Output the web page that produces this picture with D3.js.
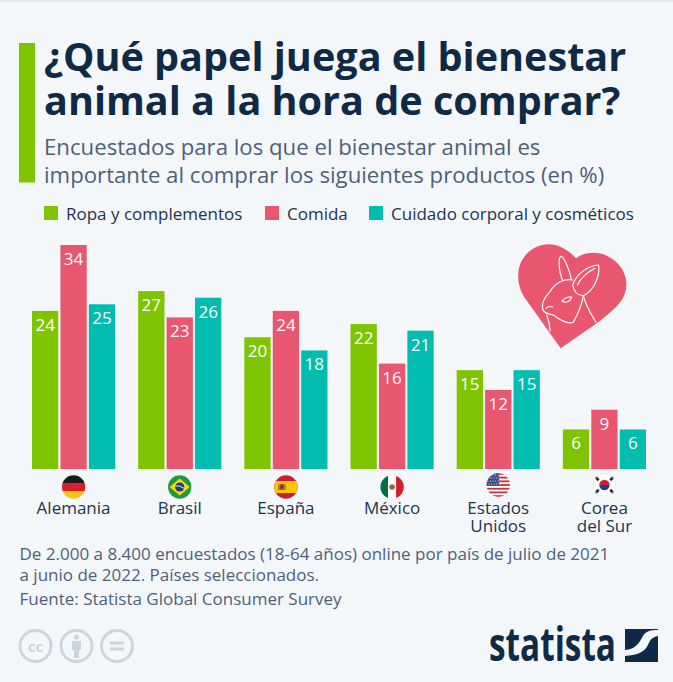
<!DOCTYPE html>
<html>
<head>
<meta charset="utf-8">
<script src="https://cdn.jsdelivr.net/npm/d3@7"></script>
<style>
  html, body { margin: 0; padding: 0; background: #f4f7fa; }
  svg { display: block; }
  text { font-family: "Open Sans", sans-serif; }
</style>
</head>
<body>
<div id="chart"></div>
<script>
const countries = ["Alemania", "Brasil", "España", "México", "Estados Unidos", "Corea del Sur"];
const countryLines = [["Alemania"], ["Brasil"], ["España"], ["México"], ["Estados", "Unidos"], ["Corea", "del Sur"]];
const flagCodes = ["de", "br", "es", "mx", "us", "kr"];
const seriesNames = ["Ropa y complementos", "Comida", "Cuidado corporal y cosméticos"];
const ropa = [24, 27, 20, 22, 15, 6];
const comida = [34, 23, 24, 16, 12, 9];
const cuidado = [25, 26, 18, 21, 15, 6];
const seriesValues = [ropa, comida, cuidado];
const colors = ["#7fc400", "#e8566f", "#00bdb0"];
const titleLines = ["¿Qué papel juega el bienestar", "animal a la hora de comprar?"];
const subtitleLines = ["Encuestados para los que el bienestar animal es", "importante al comprar los siguientes productos (en %)"];
const noteLines = ["De 2.000 a 8.400 encuestados (18-64 años) online por país de julio de 2021", "a junio de 2022. Países seleccionados.", "Fuente: Statista Global Consumer Survey"];

const width = 673, height = 682;
const dark = "#0f2a47";

const svg = d3.select("#chart").append("svg")
  .attr("width", width)
  .attr("height", height)
  .attr("viewBox", `0 0 ${width} ${height}`);

svg.append("rect").attr("width", width).attr("height", height).attr("fill", "#f4f7fa");
svg.append("rect").attr("width", width).attr("height", 1.5).attr("fill", "#e4e8ec");

// header
svg.append("rect").attr("x", 19).attr("y", 43).attr("width", 16).attr("height", 139.5).attr("fill", colors[0]);

svg.selectAll(".title").data(titleLines).join("text")
  .attr("class", "title")
  .attr("x", 44)
  .attr("y", (d, i) => 71 + i * 44)
  .attr("font-size", 39.6)
  .attr("font-weight", 700)
  .attr("fill", dark)
  .text(d => d);

svg.selectAll(".subtitle").data(subtitleLines).join("text")
  .attr("class", "subtitle")
  .attr("x", 44)
  .attr("y", (d, i) => 155 + i * 27.5)
  .attr("font-size", 22.2)
  .attr("fill", "#4e6178")
  .text(d => d);

// legend
const legendX = [44, 265, 369];
const legend = svg.selectAll(".legend").data(seriesNames).join("g")
  .attr("class", "legend")
  .attr("transform", (d, i) => `translate(${legendX[i]},206)`);
legend.append("rect").attr("width", 14).attr("height", 14).attr("fill", (d, i) => colors[i]);
legend.append("text")
  .attr("x", 22)
  .attr("y", 13.5)
  .attr("font-size", 17)
  .attr("fill", "#22344c")
  .text(d => d);

// bars
const x = d3.scaleBand().domain(countries).range([32, 646]).paddingInner(0.217);
const xInner = d3.scaleBand().domain(seriesNames).range([0, x.bandwidth()]).paddingInner(0.075);
const y = d3.scaleLinear().domain([0, 34]).range([469, 245]);

const groups = svg.selectAll(".country").data(countries).join("g")
  .attr("class", "country")
  .attr("transform", d => `translate(${x(d)},0)`);

seriesNames.forEach((name, s) => {
  groups.append("rect")
    .attr("x", xInner(name))
    .attr("y", (d, i) => y(seriesValues[s][i]))
    .attr("width", xInner.bandwidth())
    .attr("height", (d, i) => y(0) - y(seriesValues[s][i]))
    .attr("fill", colors[s]);
  groups.append("text")
    .attr("x", xInner(name) + xInner.bandwidth() / 2)
    .attr("y", (d, i) => y(seriesValues[s][i]) + 20)
    .attr("text-anchor", "middle")
    .attr("font-size", 17)
    .attr("fill", "#fff")
    .text((d, i) => seriesValues[s][i]);
});

// country labels
groups.each(function (d, i) {
  const g = d3.select(this);
  countryLines[i].forEach((line, k) => {
    g.append("text")
      .attr("x", x.bandwidth() / 2)
      .attr("y", 514 + k * 18)
      .attr("text-anchor", "middle")
      .attr("font-size", 17)
      .attr("fill", "#22344c")
      .text(line);
  });
});

// flags, drawn in a 24x24 box
const defs = svg.append("defs");
defs.append("clipPath").attr("id", "flagClip").append("circle").attr("cx", 12).attr("cy", 12).attr("r", 11.7);

function rect(g, x0, y0, w, h, fill) {
  g.append("rect").attr("x", x0).attr("y", y0).attr("width", w).attr("height", h).attr("fill", fill);
}

const flagDrawers = {
  de(g) {
    rect(g, 0, 0, 24, 8, "#1a1a1a");
    rect(g, 0, 8, 24, 8, "#d8202a");
    rect(g, 0, 16, 24, 8, "#fcc30c");
  },
  br(g) {
    rect(g, 0, 0, 24, 24, "#1f9a3c");
    g.append("path").attr("d", "M12 3.5L22 12L12 20.5L2 12Z").attr("fill", "#fbd60f");
    g.append("circle").attr("cx", 12).attr("cy", 12).attr("r", 4.6).attr("fill", "#1d3f86");
    g.append("path").attr("d", "M7.6 11Q12 10 16.4 13.4").attr("fill", "none").attr("stroke", "#fff").attr("stroke-width", 0.9);
  },
  es(g) {
    rect(g, 0, 0, 24, 24, "#c8202f");
    rect(g, 0, 6, 24, 12, "#fbc40f");
    rect(g, 5.5, 9, 5, 6, "#a8532a");
    rect(g, 6.8, 10.5, 2.4, 2.6, "#7a2a20");
    rect(g, 4.2, 9.5, 1, 5.5, "#8a7a40");
    rect(g, 10.8, 9.5, 1, 5.5, "#8a7a40");
  },
  mx(g) {
    rect(g, 0, 0, 8, 24, "#0a6b4b");
    rect(g, 8, 0, 8, 24, "#fff");
    rect(g, 16, 0, 8, 24, "#d2202f");
    g.append("circle").attr("cx", 12).attr("cy", 12).attr("r", 2.8).attr("fill", "#8a6a3a");
  },
  us(g) {
    rect(g, 0, 0, 24, 24, "#fff");
    d3.range(0, 7).forEach(k => rect(g, 0, k * 3.7, 24, 1.85, "#c8303f"));
    rect(g, 0, 0, 13, 12.9, "#3c4a85");
    d3.range(0, 4).forEach(r => d3.range(0, 5).forEach(c => {
      g.append("circle").attr("cx", 1.5 + c * 2.6 + (r % 2) * 1.2).attr("cy", 2 + r * 3).attr("r", 0.55).attr("fill", "#fff");
    }));
  },
  kr(g) {
    rect(g, 0, 0, 24, 24, "#fff");
    g.append("path").attr("d", "M6.8 12A5.2 5.2 0 0 1 17.2 12Z").attr("fill", "#d2202f");
    g.append("path").attr("d", "M6.8 12A5.2 5.2 0 0 0 17.2 12Z").attr("fill", "#1d3f96");
    [[4.5, 5.5, 45], [19.5, 5.5, -45], [4.5, 18.5, -45], [19.5, 18.5, 45]].forEach(t => {
      rect(g.append("g").attr("transform", `translate(${t[0]},${t[1]}) rotate(${t[2]})`), -2.4, -1.4, 4.8, 2.8, "#333");
    });
    g.append("circle").attr("cx", 12).attr("cy", 12).attr("r", 11.4).attr("fill", "none").attr("stroke", "#d5d9dd").attr("stroke-width", 0.7);
  }
};

const flagY = [475, 475, 475, 475, 473, 473];
groups.append("g")
  .attr("transform", (d, i) => `translate(${x.bandwidth() / 2 - 12},${flagY[i]})`)
  .attr("clip-path", "url(#flagClip)")
  .each(function (d, i) { flagDrawers[flagCodes[i]](d3.select(this)); });

// heart with rabbit
const heart = svg.append("g").attr("transform", "translate(500,235) scale(0.3333)");
heart.append("path")
  .attr("d", "M182 340 L72 185 C50 150 48 100 70 70 C95 30 150 15 190 40 C205 48 220 60 228 70 C250 52 290 48 320 62 C365 82 390 130 375 175 C365 205 340 225 300 258Z")
  .attr("fill", colors[1]);
const rabbit = heart.append("g").attr("fill", "none").attr("stroke", "#fff").attr("stroke-width", 3.5).attr("stroke-linejoin", "round").attr("stroke-linecap", "round");
rabbit.append("path").attr("d", "M187 135 C175 105 175 70 182 64 C192 62 210 110 214 133");
rabbit.append("path").attr("d", "M218 150 C230 115 265 92 296 90 C300 120 285 165 250 182 C235 182 222 172 218 150Z");
rabbit.append("path").attr("d", "M232 150 C245 125 265 110 285 100");
rabbit.append("path").attr("d", "M218 135 C190 130 165 145 150 170 C135 185 125 205 128 222 C132 235 145 238 160 240 C180 255 205 268 220 262 C235 235 245 215 250 182");
rabbit.append("path").attr("d", "M250 182 C258 215 275 240 288 262");
rabbit.append("path").attr("d", "M186 198 C195 188 208 184 215 186 C212 198 200 206 186 198Z");
rabbit.append("path").attr("d", "M138 220 C145 212 152 214 158 216");
rabbit.append("path").attr("d", "M140 240 C146 255 150 272 150 288");

// notes, source line sits a little lower
svg.selectAll(".note").data(noteLines).join("text")
  .attr("class", "note")
  .attr("x", 19.5)
  .attr("y", (d, i) => 560 + i * 21 + (i === 2 ? 3 : 0))
  .attr("font-size", 17)
  .attr("fill", "#4e6178")
  .text(d => d);

// cc icons
const ccGrey = "#ccd5dc";
const cc = svg.append("g").attr("fill", "none").attr("stroke", ccGrey).attr("stroke-width", 3);
[35.5, 76.5, 117].forEach(cx => cc.append("circle").attr("cx", cx).attr("cy", 646).attr("r", 15.5));
svg.append("text").attr("x", 35.5).attr("y", 651.5).attr("text-anchor", "middle").attr("font-size", 15).attr("font-weight", 700).attr("fill", ccGrey).text("cc");
svg.append("circle").attr("cx", 76.5).attr("cy", 637).attr("r", 2.6).attr("fill", ccGrey);
rect(svg, 72, 641, 9, 9, ccGrey);
rect(svg, 74, 650, 5, 8, ccGrey);
rect(svg, 110, 641.5, 14, 3, ccGrey);
rect(svg, 110, 647.5, 14, 3, ccGrey);

// logo
svg.append("text")
  .attr("x", 489)
  .attr("y", 661)
  .attr("font-size", 46)
  .attr("font-weight", 700)
  .attr("textLength", 127)
  .attr("lengthAdjust", "spacingAndGlyphs")
  .attr("fill", dark)
  .text("statista");
rect(svg, 625, 629, 33, 33, dark);
svg.append("path")
  .attr("d", "M625 650 C636 649 639 643 643 636 C646 631 650 630 658 630 L658 636 C652 637 650 640 648 645 C644 653 636 655 625 656Z")
  .attr("fill", "#f4f7fa");
</script>
</body>
</html>
